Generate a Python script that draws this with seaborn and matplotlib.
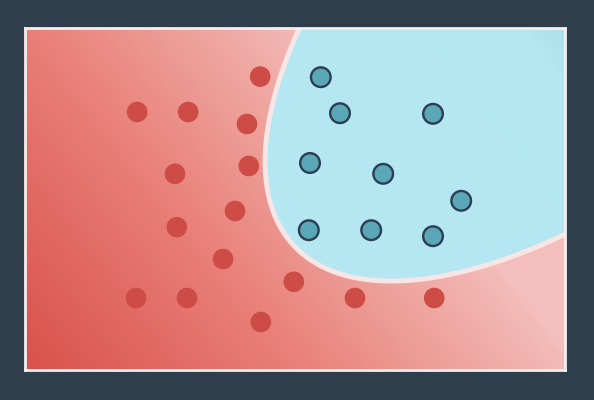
import numpy as np
import pandas as pd
import matplotlib
matplotlib.use("Agg")
import matplotlib.pyplot as plt
import seaborn as sns
from matplotlib.colors import LinearSegmentedColormap, Normalize

# ---- data (axis units: x 0..9, y 0..5.7) ----
red_x = [3.92, 1.87, 2.72, 3.70, 2.50, 3.73, 3.50, 2.53, 3.30, 1.85, 2.70, 3.93, 4.48, 5.50, 6.82]
red_y = [4.89, 4.30, 4.30, 4.10, 3.27, 3.40, 2.65, 2.38, 1.85, 1.20, 1.20, 0.80, 1.47, 1.20, 1.20]
blue_x = [4.93, 5.25, 6.80, 4.75, 5.97, 7.27, 4.73, 5.77, 6.80]
blue_y = [4.88, 4.28, 4.27, 3.45, 3.27, 2.82, 2.33, 2.33, 2.23]
classes = ["A", "B"]

# decision boundary
boundary_x = [4.55, 4.30, 4.12, 3.98, 3.97, 4.03, 4.25, 4.48, 5.03, 5.60,
              6.15, 6.70, 7.27, 7.82, 8.37, 8.93]
boundary_y = [5.70, 4.90, 4.28, 3.67, 3.25, 2.83, 2.42, 2.17, 1.70, 1.53,
              1.47, 1.50, 1.63, 1.80, 2.00, 2.22]

df = pd.DataFrame({
    "x": red_x + blue_x,
    "y": red_y + blue_y,
    "cls": [classes[0]] * len(red_x) + [classes[1]] * len(blue_x),
})

XMAX, YMAX = 9.0, 5.7

# ---- conic fitted through the boundary ----
def conic_feats(x, y):
    u = (np.asarray(x) - 4.5) / 4.5
    v = (np.asarray(y) - 2.85) / 2.85
    return np.stack([u * u, u * v, v * v, u, v, np.ones_like(u)], axis=-1)

M = conic_feats(boundary_x, boundary_y)
_, _, Vt = np.linalg.svd(M)
coef = Vt[-1]
if conic_feats(np.mean(blue_x), np.mean(blue_y)) @ coef < 0:
    coef = -coef

gx = np.linspace(0, XMAX, 540)
gy = np.linspace(0, YMAX, 342)
GX, GY = np.meshgrid(gx, gy)
Q = conic_feats(GX, GY) @ coef

# smooth score: confidence grows toward the upper right
L = 0.1 * GX + 0.078 * GY - 1.0
Z = np.where(Q > 0, 0.12 + np.clip(L, 0, None), np.minimum(L, -0.08))

cmap = LinearSegmentedColormap.from_list(
    "rc",
    [(0.0, "#d8524a"), (0.30, "#e97f78"), (0.53, "#f0aca7"), (0.61, "#f3bcb8"),
     (0.666, "#f6d8d6"), (0.70, "#b5e8f2"), (0.93, "#b3e7f1"), (1.0, "#a6dde8")],
)
norm = Normalize(vmin=-1.0, vmax=0.5)

fig = plt.figure(figsize=(5.94, 4.0), dpi=100)
fig.patch.set_facecolor("#2f3e4c")
ax = fig.add_axes([25 / 594, 30 / 400, 540 / 594, 342 / 400])

ax.imshow(Z, extent=(0, XMAX, 0, YMAX), origin="lower", cmap=cmap, norm=norm,
          aspect="auto", interpolation="bilinear", zorder=0)
ax.contour(GX, GY, Q, levels=[0.0], colors="#f8e6e6", linewidths=3.5, zorder=1)

sns.scatterplot(
    data=df, x="x", y="y", hue="cls",
    palette={classes[0]: "#cd4c45", classes[1]: "#5aa7b7"},
    s=220, edgecolor=None, linewidth=0, legend=False, ax=ax, zorder=3,
)
blue = df[df["cls"] == classes[1]]
ax.scatter(blue["x"], blue["y"], s=200, facecolor="none", edgecolor="#2c3e50",
           linewidth=1.7, zorder=4)

ax.set_xlim(0, XMAX)
ax.set_ylim(0, YMAX)
ax.set_xticks([])
ax.set_yticks([])
ax.set_xlabel("")
ax.set_ylabel("")
for s in ax.spines.values():
    s.set_color("#f7eeee")
    s.set_linewidth(2)

fig.savefig("out.png", dpi=100, facecolor=fig.get_facecolor())
